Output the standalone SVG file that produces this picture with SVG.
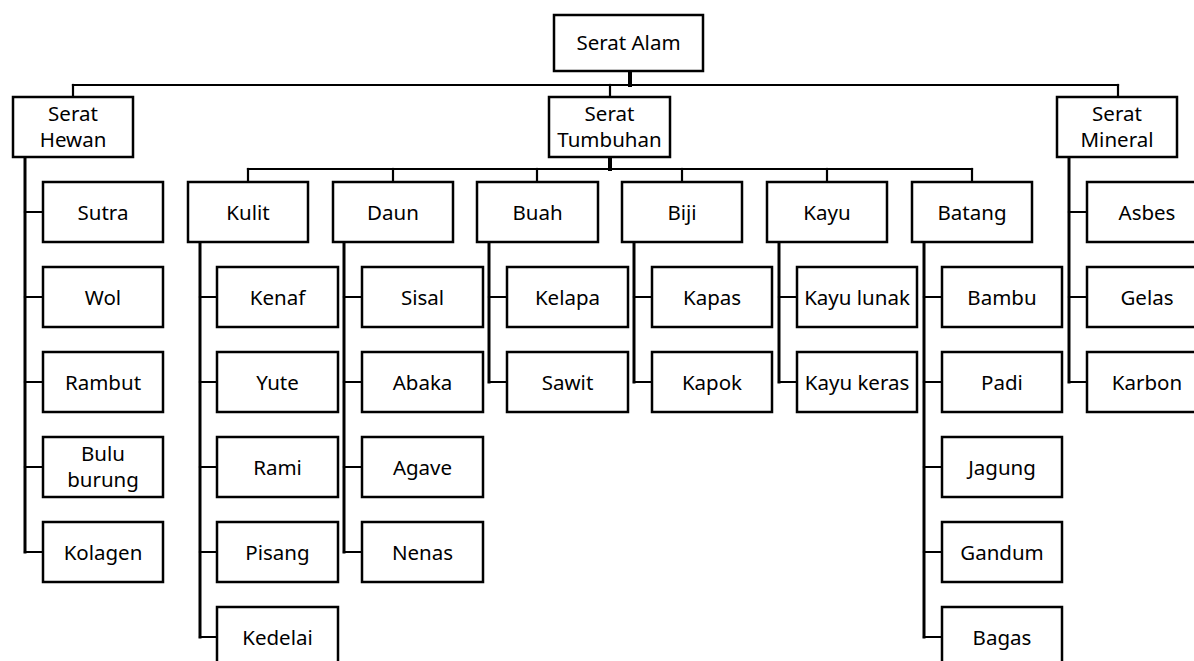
<svg xmlns="http://www.w3.org/2000/svg" width="1194" height="661" viewBox="0 0 1194 661">
<style>
rect{fill:#fff;stroke:#000;stroke-width:2.5}
text{font-family:"Noto Sans","Open Sans","Liberation Sans",sans-serif;font-size:20.5px;fill:#000;text-anchor:middle}
.c line,.c path{stroke:#000;fill:none;stroke-linecap:square}
.bus{stroke-width:2.2}
.trunk{stroke-width:3}
.stub{stroke-width:2.2}
.thick{stroke-width:4}
</style>
<g class="c" id="connectors">
<line class="thick" x1="630" y1="71" x2="630" y2="85"/>
<line class="bus" x1="73" y1="85" x2="1118" y2="85"/>
<line class="stub" x1="73" y1="85" x2="73" y2="97"/>
<line class="stub" x1="610" y1="85" x2="610" y2="97"/>
<line class="stub" x1="1118" y1="85" x2="1118" y2="97"/>
<line class="thick" x1="610" y1="157" x2="610" y2="169"/>
<line class="bus" x1="248" y1="169" x2="972" y2="169"/>
<line class="stub" x1="248" y1="169" x2="248" y2="182"/>
<line class="stub" x1="393" y1="169" x2="393" y2="182"/>
<line class="stub" x1="537" y1="169" x2="537" y2="182"/>
<line class="stub" x1="682" y1="169" x2="682" y2="182"/>
<line class="stub" x1="827" y1="169" x2="827" y2="182"/>
<line class="stub" x1="972" y1="169" x2="972" y2="182"/>
<!-- Hewan -->
<line class="trunk" x1="25" y1="157" x2="25" y2="552"/>
<path class="stub" d="M25 212H43M25 297H43M25 382H43M25 467H43M25 552H43"/>
<!-- Kulit -->
<line class="trunk" x1="200" y1="241" x2="200" y2="637"/>
<path class="stub" d="M200 297H217M200 382H217M200 467H217M200 552H217M200 637H217"/>
<!-- Daun -->
<line class="trunk" x1="344" y1="241" x2="344" y2="552"/>
<path class="stub" d="M344 297H362M344 382H362M344 467H362M344 552H362"/>
<!-- Buah -->
<line class="trunk" x1="489" y1="241" x2="489" y2="382"/>
<path class="stub" d="M489 297H507M489 382H507"/>
<!-- Biji -->
<line class="trunk" x1="634" y1="241" x2="634" y2="382"/>
<path class="stub" d="M634 297H652M634 382H652"/>
<!-- Kayu -->
<line class="trunk" x1="779" y1="241" x2="779" y2="382"/>
<path class="stub" d="M779 297H797M779 382H797"/>
<!-- Batang -->
<line class="trunk" x1="924" y1="241" x2="924" y2="637"/>
<path class="stub" d="M924 297H942M924 382H942M924 467H942M924 552H942M924 637H942"/>
<!-- Mineral -->
<line class="trunk" x1="1069" y1="157" x2="1069" y2="382"/>
<path class="stub" d="M1069 212H1087M1069 297H1087M1069 382H1087"/>
</g>
<g id="serat-alam"><rect x="554" y="15" width="149" height="56"/><text x="628.5" y="50">Serat Alam</text></g>
<g id="serat-hewan"><rect x="13" y="97" width="120" height="60"/><text x="73" y="121">Serat</text><text x="73" y="147">Hewan</text></g>
<g id="serat-tumbuhan"><rect x="549" y="97" width="121" height="60"/><text x="609.5" y="121">Serat</text><text x="609.5" y="147">Tumbuhan</text></g>
<g id="serat-mineral"><rect x="1057" y="97" width="120" height="60"/><text x="1117" y="121">Serat</text><text x="1117" y="147">Mineral</text></g>

<g id="sutra"><rect x="43" y="182" width="120" height="60"/><text x="103" y="219.5">Sutra</text></g>
<g id="wol"><rect x="43" y="267" width="120" height="60"/><text x="103" y="304.5">Wol</text></g>
<g id="rambut"><rect x="43" y="352" width="120" height="60"/><text x="103" y="389.5">Rambut</text></g>
<g id="bulu-burung"><rect x="43" y="437" width="120" height="60"/><text x="103" y="461">Bulu</text><text x="103" y="487">burung</text></g>
<g id="kolagen"><rect x="43" y="522" width="120" height="60"/><text x="103" y="559.5">Kolagen</text></g>

<g id="kulit"><rect x="188" y="182" width="120" height="60"/><text x="248" y="219.5">Kulit</text></g>
<g id="daun"><rect x="333" y="182" width="120" height="60"/><text x="393" y="219.5">Daun</text></g>
<g id="buah"><rect x="477" y="182" width="121" height="60"/><text x="537.5" y="219.5">Buah</text></g>
<g id="biji"><rect x="622" y="182" width="120" height="60"/><text x="682" y="219.5">Biji</text></g>
<g id="kayu"><rect x="767" y="182" width="120" height="60"/><text x="827" y="219.5">Kayu</text></g>
<g id="batang"><rect x="912" y="182" width="120" height="60"/><text x="972" y="219.5">Batang</text></g>

<g id="kenaf"><rect x="217" y="267" width="121" height="60"/><text x="277.5" y="304.5">Kenaf</text></g>
<g id="yute"><rect x="217" y="352" width="121" height="60"/><text x="277.5" y="389.5">Yute</text></g>
<g id="rami"><rect x="217" y="437" width="121" height="60"/><text x="277.5" y="474.5">Rami</text></g>
<g id="pisang"><rect x="217" y="522" width="121" height="60"/><text x="277.5" y="559.5">Pisang</text></g>
<g id="kedelai"><rect x="217" y="607" width="121" height="60"/><text x="277.5" y="644.5">Kedelai</text></g>

<g id="sisal"><rect x="362" y="267" width="121" height="60"/><text x="422.5" y="304.5">Sisal</text></g>
<g id="abaka"><rect x="362" y="352" width="121" height="60"/><text x="422.5" y="389.5">Abaka</text></g>
<g id="agave"><rect x="362" y="437" width="121" height="60"/><text x="422.5" y="474.5">Agave</text></g>
<g id="nenas"><rect x="362" y="522" width="121" height="60"/><text x="422.5" y="559.5">Nenas</text></g>

<g id="kelapa"><rect x="507" y="267" width="121" height="60"/><text x="567.5" y="304.5">Kelapa</text></g>
<g id="sawit"><rect x="507" y="352" width="121" height="60"/><text x="567.5" y="389.5">Sawit</text></g>

<g id="kapas"><rect x="652" y="267" width="120" height="60"/><text x="712" y="304.5">Kapas</text></g>
<g id="kapok"><rect x="652" y="352" width="120" height="60"/><text x="712" y="389.5">Kapok</text></g>

<g id="kayu-lunak"><rect x="797" y="267" width="120" height="60"/><text x="857" y="304.5">Kayu lunak</text></g>
<g id="kayu-keras"><rect x="797" y="352" width="120" height="60"/><text x="857" y="389.5">Kayu keras</text></g>

<g id="bambu"><rect x="942" y="267" width="120" height="60"/><text x="1002" y="304.5">Bambu</text></g>
<g id="padi"><rect x="942" y="352" width="120" height="60"/><text x="1002" y="389.5">Padi</text></g>
<g id="jagung"><rect x="942" y="437" width="120" height="60"/><text x="1002" y="474.5">Jagung</text></g>
<g id="gandum"><rect x="942" y="522" width="120" height="60"/><text x="1002" y="559.5">Gandum</text></g>
<g id="bagas"><rect x="942" y="607" width="120" height="60"/><text x="1002" y="644.5">Bagas</text></g>

<g id="asbes"><rect x="1087" y="182" width="120" height="60"/><text x="1147" y="219.5">Asbes</text></g>
<g id="gelas"><rect x="1087" y="267" width="120" height="60"/><text x="1147" y="304.5">Gelas</text></g>
<g id="karbon"><rect x="1087" y="352" width="120" height="60"/><text x="1147" y="389.5">Karbon</text></g>
</svg>
